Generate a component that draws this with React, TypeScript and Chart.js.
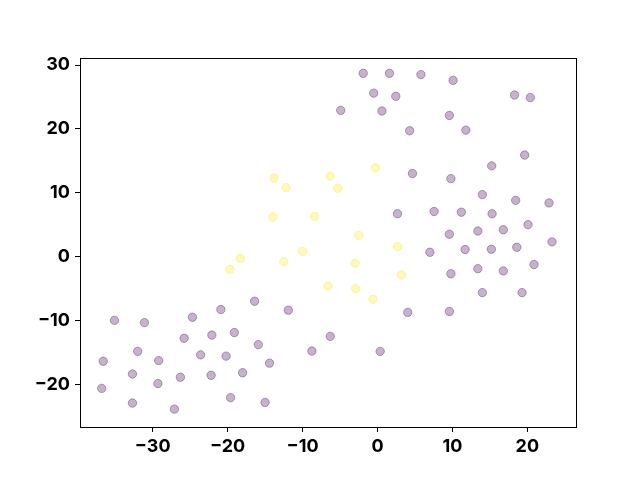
import React, { useEffect, useRef } from "react";
import { Chart, registerables } from "chart.js";

Chart.register(...registerables);

// class 0 (purple)
const purpleX = [
  -1.9, 1.6, 5.8, 10.1, -0.5, 2.45, -4.9, 0.6, 9.6, 18.3, 20.4, 4.3, 11.8, 19.65, 15.25, 4.67, 9.8, 14.0, 18.45, 22.9,
  2.67, 7.56, 11.2, 15.3, 20.1, 9.6, 13.4, 16.8, 23.3, 7.0, 11.7, 15.2, 18.6, 9.8, 13.4, 16.8, 20.9, 14.0, 19.3, 4.05,
  9.6, 0.36, -16.4, -11.9, -20.9, -24.7, -35.1, -31.1, -25.8, -22.1, -19.1, -15.9, -6.3, -8.75, -32.0, -36.6, -29.2,
  -23.6, -20.2, -14.4, -32.7, -26.3, -29.3, -22.2, -18.0, -36.8, -32.7, -27.1, -19.6, -15.0,
];
const purpleY = [
  28.7, 28.7, 28.5, 27.6, 25.6, 25.1, 22.9, 22.8, 22.1, 25.3, 24.9, 19.7, 19.8, 15.9, 14.2, 13.0, 12.2, 9.7, 8.8, 8.4,
  6.7, 7.05, 6.95, 6.7, 5.0, 3.5, 4.0, 4.2, 2.3, 0.67, 1.1, 1.15, 1.45, -2.7, -1.9, -2.25, -1.25, -5.65, -5.65, -8.75,
  -8.6, -14.85, -7.0, -8.4, -8.3, -9.5, -10.0, -10.35, -12.8, -12.3, -11.9, -13.8, -12.5, -14.8, -14.85, -16.4, -16.3,
  -15.4, -15.6, -16.7, -18.4, -18.9, -19.9, -18.6, -18.2, -20.65, -22.95, -23.9, -22.1, -22.85,
];

// class 1 (yellow)
const yellowX = [
  -0.27, -6.3, -5.3, -13.8, -12.2, -13.95, -8.4, -2.5, -19.7, -18.3, -12.5, -10.0, -6.6, 2.67, -2.97, 3.2, -2.9, -0.6,
];
const yellowY = [
  13.9, 12.6, 10.7, 12.3, 10.8, 6.2, 6.3, 3.3, -2.0, -0.3, -0.8, 0.8, -4.6, 1.57, -1.05, -2.9, -5.0, -6.7,
];

const xTicks = [-30, -20, -10, 0, 10, 20];
const yTicks = [-20, -10, 0, 10, 20, 30];

const fmt = (v: number) => (v < 0 ? "\u2212" + Math.abs(v) : String(v));

const framePlugin = {
  id: "frame",
  afterDraw(chart: any) {
    const { ctx, chartArea } = chart;
    ctx.save();
    ctx.strokeStyle = "#000";
    ctx.lineWidth = 1;
    ctx.strokeRect(
      Math.round(chartArea.left) + 0.5,
      Math.round(chartArea.top) + 0.5,
      Math.round(chartArea.right - chartArea.left),
      Math.round(chartArea.bottom - chartArea.top)
    );
    ctx.restore();
  },
};

export default function App() {
  const ref = useRef<HTMLCanvasElement | null>(null);

  useEffect(() => {
    if (!ref.current) return;
    const font = { family: "Inter", size: 18, weight: "bold" as const };
    const chart = new Chart(ref.current, {
      type: "scatter",
      data: {
        datasets: [
          {
            data: purpleX.map((x, i) => ({ x, y: purpleY[i] })),
            backgroundColor: "rgba(68,1,84,0.3)",
            borderColor: "rgba(68,1,84,0.35)",
            borderWidth: 1,
            pointRadius: 4.2,
          },
          {
            data: yellowX.map((x, i) => ({ x, y: yellowY[i] })),
            backgroundColor: "rgba(253,231,37,0.3)",
            borderColor: "rgba(253,231,37,0.35)",
            borderWidth: 1,
            pointRadius: 4.2,
          },
        ],
      },
      options: {
        animation: false,
        responsive: false,
        events: [],
        layout: { padding: { left: 0, right: 64, top: 58, bottom: 0 } },
        plugins: { legend: { display: false }, tooltip: { enabled: false } },
        scales: {
          x: {
            type: "linear",
            min: -39.7,
            max: 26.5,
            afterBuildTicks: (s: any) => {
              s.ticks = xTicks.map((v) => ({ value: v }));
            },
            afterFit: (s: any) => {
              s.height = 53;
            },
            grid: { drawOnChartArea: false, drawTicks: true, tickLength: 5, color: "#000", tickWidth: 1 },
            border: { display: true, color: "#000" },
            ticks: { color: "#000", font, padding: 4, maxRotation: 0, callback: (v: any) => fmt(Number(v)) },
          },
          y: {
            type: "linear",
            min: -26.7,
            max: 31.1,
            afterBuildTicks: (s: any) => {
              s.ticks = yTicks.map((v) => ({ value: v }));
            },
            afterFit: (s: any) => {
              s.width = 80;
            },
            grid: { drawOnChartArea: false, drawTicks: true, tickLength: 5, color: "#000", tickWidth: 1 },
            border: { display: true, color: "#000" },
            ticks: { color: "#000", font, padding: 5, callback: (v: any) => fmt(Number(v)) },
          },
        },
      },
      plugins: [framePlugin],
    });
    return () => chart.destroy();
  }, []);

  return (
    <div style={{ position: "fixed", left: 0, top: 0, width: 640, height: 480, background: "#fff" }}>
      <canvas ref={ref} width={640} height={480} style={{ width: 640, height: 480 }} />
    </div>
  );
}
